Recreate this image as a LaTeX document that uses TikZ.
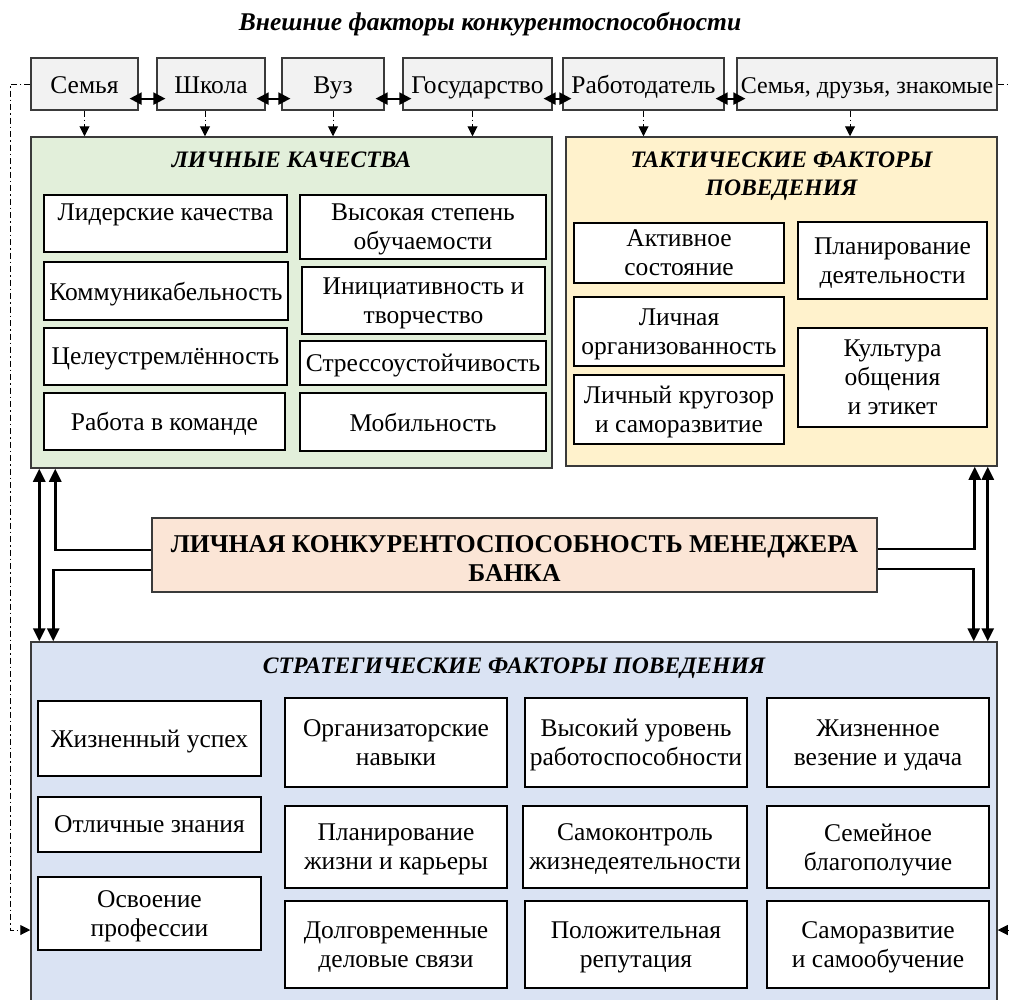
\documentclass[tikz,border=0pt]{standalone}
\usepackage{fontspec}
\setmainfont{Liberation Serif}
\usetikzlibrary{arrows.meta}

\definecolor{extfill}{HTML}{F2F2F2}
\definecolor{lqfill}{HTML}{E2EFDA}
\definecolor{tffill}{HTML}{FFF2CC}
\definecolor{corefill}{HTML}{FBE5D6}
\definecolor{sffill}{HTML}{DAE3F3}
\definecolor{edge}{HTML}{3A3A3A}

\begin{document}
\begin{tikzpicture}[x=1pt, y=-1pt,
  every node/.style={font=\fontsize{25.5}{29}\selectfont, align=center, inner sep=0pt},
  extbox/.style={draw=edge, line width=1.2pt, fill=extfill, minimum height=52, text height=24pt, text depth=6pt},
  panel/.style={draw=edge, line width=1.5pt},
  item/.style={draw=black, line width=1.6pt, fill=white, text depth=0pt},
  ptitle/.style={font=\fontsize{23.6}{28}\selectfont\bfseries\itshape},
  linkarr/.style={{Triangle[length=12pt,width=12pt]}-{Triangle[length=12pt,width=12pt]}, line width=2.2pt,
    shorten <=-9pt, shorten >=-9pt},
  extarr/.style={-{Triangle[length=10pt,width=10pt]}, line width=1pt, dash pattern=on 6pt off 3pt on 1.5pt off 3pt},
  bigarr/.style={-{Triangle[length=13pt,width=12pt]}, line width=2.6pt},
  dblarr/.style={{Triangle[length=13pt,width=12pt]}-{Triangle[length=13pt,width=12pt]}, line width=2.6pt},
]
\useasboundingbox (0,0) rectangle (1009,999);

% external factors
\node[font=\fontsize{25.5}{29}\selectfont\bfseries\itshape] (ttl) at (490,24) {Внешние факторы конкурентоспособности};
\node[extbox, minimum width=107] (fam) at (84.5,84) {Семья};
\node[extbox, minimum width=108] (school) at (211,84) {Школа};
\node[extbox, minimum width=102] (uni) at (333,84) {Вуз};
\node[extbox, minimum width=149] (state) at (477.5,84) {Государство};
\node[extbox, minimum width=161] (empl) at (643.5,84) {Работодатель};
\node[extbox, minimum width=260, font=\fontsize{24}{29}\selectfont] (circle) at (867,84) {Семья, друзья, знакомые};

% panels
\node[panel, fill=lqfill, minimum width=521, minimum height=331] (lq) at (291.5,302.5) {};
\node[panel, fill=tffill, minimum width=431, minimum height=329] (tf) at (781.5,301.5) {};
\node[panel, fill=sffill, minimum width=966, minimum height=368] (sf) at (514,826) {};
\node[ptitle, anchor=north, yshift=-15pt] (lqt) at (lq.north) {ЛИЧНЫЕ КАЧЕСТВА};
\node[ptitle, anchor=north, yshift=-15pt] (tft) at (tf.north) {ТАКТИЧЕСКИЕ ФАКТОРЫ\\ПОВЕДЕНИЯ};
\node[ptitle, anchor=north, yshift=-16pt] (sft) at (sf.north) {СТРАТЕГИЧЕСКИЕ ФАКТОРЫ ПОВЕДЕНИЯ};

% personal qualities
\node[item, minimum width=243, minimum height=57, text height=52pt] (lq1) at (165.5,223.5) {Лидерские качества\\\mbox{}};
\node[item, minimum width=244, minimum height=58] (lq2) at (166,291) {Коммуникабельность};
\node[item, minimum width=243, minimum height=57] (lq3) at (165.5,356.5) {Целеустремлённость};
\node[item, minimum width=241, minimum height=57] (lq4) at (164.5,421.5) {Работа в команде};
\node[item, minimum width=246, minimum height=64] (lq5) at (423,227) {Высокая степень\\обучаемости};
\node[item, minimum width=243, minimum height=67] (lq6) at (423.5,300.5) {Инициативность и\\творчество};
\node[item, minimum width=246, minimum height=44] (lq7) at (423,363) {Стрессоустойчивость};
\node[item, minimum width=246, minimum height=58] (lq8) at (423,422) {Мобильность};

% tactical factors
\node[item, minimum width=210, minimum height=60] (tf1) at (679,253) {Активное\\состояние};
\node[item, minimum width=210, minimum height=69] (tf2) at (679,331.5) {Личная\\организованность};
\node[item, minimum width=210, minimum height=69] (tf3) at (679,409.5) {Личный кругозор\\и саморазвитие};
\node[item, minimum width=189, minimum height=77] (tf4) at (892.5,260.5) {Планирование\\деятельности};
\node[item, minimum width=189, minimum height=99] (tf5) at (892.5,377.5) {Культура\\общения\\и этикет};

% strategic factors
\node[item, minimum width=223, minimum height=75] (sf1) at (149.5,738.5) {Жизненный успех};
\node[item, minimum width=223, minimum height=55] (sf2) at (149.5,824.5) {Отличные знания};
\node[item, minimum width=223, minimum height=73] (sf3) at (149.5,913.5) {Освоение\\профессии};
\node[item, minimum width=222, minimum height=89] (sf4) at (396,742.5) {Организаторские\\навыки};
\node[item, minimum width=222, minimum height=82] (sf5) at (396,847) {Планирование\\жизни и карьеры};
\node[item, minimum width=222, minimum height=87] (sf6) at (396,944.5) {Долговременные\\деловые связи};
\node[item, minimum width=222, minimum height=89] (sf7) at (636,742.5) {Высокий уровень\\работоспособности};
\node[item, minimum width=224, minimum height=82] (sf8) at (635,847) {Самоконтроль\\жизнедеятельности};
\node[item, minimum width=222, minimum height=87] (sf9) at (636,944.5) {Положительная\\репутация};
\node[item, minimum width=222, minimum height=89] (sf10) at (878,742.5) {Жизненное\\везение и удача};
\node[item, minimum width=222, minimum height=82] (sf11) at (878,847) {Семейное\\благополучие};
\node[item, minimum width=222, minimum height=87] (sf12) at (878,944.5) {Саморазвитие\\и самообучение};

% core
\node[panel, fill=corefill, minimum width=725, minimum height=74, text height=52pt, text depth=0pt,
  font=\fontsize{25.6}{29}\selectfont\bfseries] (core)
  at (514.5,555) {ЛИЧНАЯ КОНКУРЕНТОСПОСОБНОСТЬ МЕНЕДЖЕРА\\БАНКА};

% links between external factors
\foreach \a/\b in {fam/school, school/uni, uni/state, state/empl, empl/circle}
  \draw[linkarr] ([yshift=12pt]\a.south east) -- ([yshift=12pt]\b.south west);

% influence of external factors
\foreach \n/\s/\t in {fam/0/lq, school/-6/lq, uni/0/lq, state/-5/lq, empl/0/tf, circle/-17/tf}
  \draw[extarr] ([xshift=\s pt]\n.south) -- ([xshift=\s pt]\n.south |- \t.north);

\coordinate (lbend) at (10,930);
\coordinate (rbend) at (1020,930);
\draw[extarr] (fam.west) -| (lbend) -- (lbend -| sf.west);
\draw[extarr] (circle.east) -| (rbend) -- (rbend -| sf.east);

% core connections
\draw[dblarr] ([xshift=9pt]lq.south west) -- ([xshift=9pt]sf.north west);
\draw[bigarr] ([yshift=5pt]core.west) -| ([xshift=25pt]lq.south west);
\draw[bigarr] ([yshift=-15pt]core.west) -| ([xshift=23pt]sf.north west);
\draw[dblarr] ([xshift=-10pt]tf.south east) -- ([xshift=-10pt]sf.north east);
\draw[bigarr] ([yshift=6pt]core.east) -| ([xshift=-23pt]tf.south east);
\draw[bigarr] ([yshift=-14pt]core.east) -| ([xshift=-24pt]sf.north east);
\end{tikzpicture}
\end{document}
